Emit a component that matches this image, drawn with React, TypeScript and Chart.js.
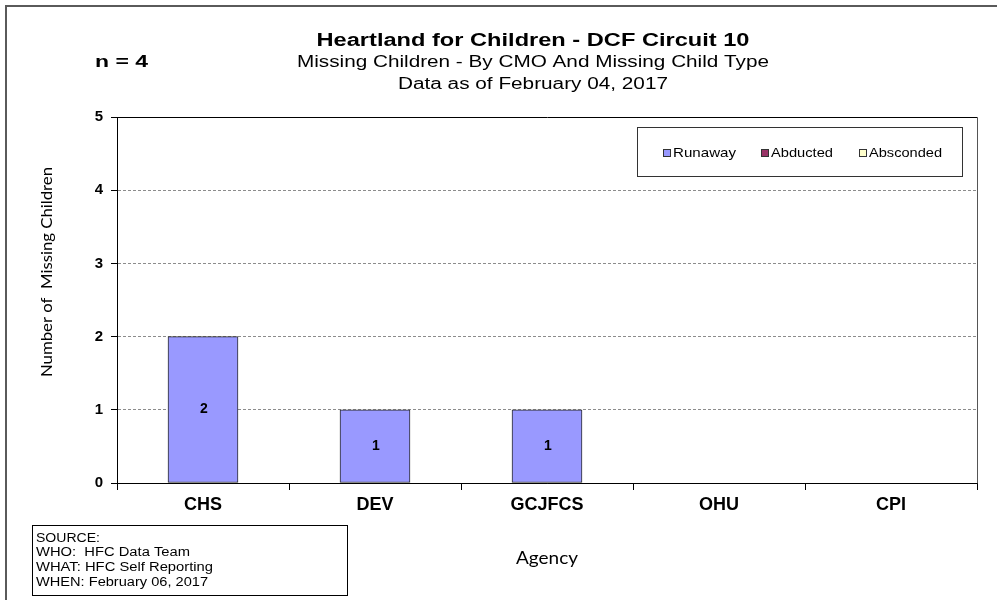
import React, { useEffect, useRef } from 'react';
import { Chart, registerables } from 'chart.js';

Chart.register(...registerables);

// ---- data ----
const categories = ['CHS', 'DEV', 'GCJFCS', 'OHU', 'CPI'];
const runaway = [2, 1, 1, 0, 0];
const abducted = [0, 0, 0, 0, 0];
const absconded = [0, 0, 0, 0, 0];
const seriesNames = ['Runaway', 'Abducted', 'Absconded'];
const seriesColors = ['#9999FF', '#993366', '#FFFFCC'];
const yMin = 0;
const yMax = 5;
const yStep = 1;

const titleText = 'Heartland for Children - DCF Circuit 10';
const subtitleText = 'Missing Children - By CMO And Missing Child Type';
const dateText = 'Data as of February 04, 2017';
const countText = 'n = 4';
const sourceLines = ['SOURCE:', 'WHO:  HFC Data Team', 'WHAT: HFC Self Reporting', 'WHEN: February 06, 2017'];
const xTitle = 'Agency';
const yTitle = 'Number of  Missing Children';

const SANS = "'Liberation Sans', Arial, sans-serif";
const HUMAN = "Lato, 'Liberation Sans', sans-serif";

function fitText(
  ctx: CanvasRenderingContext2D,
  text: string,
  x: number,
  y: number,
  font: string,
  width: number,
  align: CanvasTextAlign = 'center',
  rotate = 0
) {
  ctx.save();
  ctx.font = font;
  ctx.fillStyle = '#000';
  ctx.textBaseline = 'middle';
  ctx.textAlign = align;
  const w = ctx.measureText(text).width;
  const sx = width && w ? width / w : 1;
  ctx.translate(x, y);
  if (rotate) ctx.rotate(rotate);
  ctx.scale(sx, 1);
  ctx.fillText(text, 0, 0);
  ctx.restore();
}

const decorPlugin = {
  id: 'decor',
  beforeDraw(chart: any) {
    const ctx: CanvasRenderingContext2D = chart.ctx;
    ctx.save();
    ctx.fillStyle = '#fff';
    ctx.fillRect(0, 0, chart.width, chart.height);
    ctx.strokeStyle = '#5a5a5a';
    ctx.lineWidth = 2;
    ctx.beginPath();
    ctx.moveTo(chart.width + 2, 6);
    ctx.lineTo(6, 6);
    ctx.lineTo(6, chart.height + 2);
    ctx.stroke();
    ctx.restore();
  },
  afterDatasetsDraw(chart: any) {
    const ctx: CanvasRenderingContext2D = chart.ctx;
    chart.data.datasets.forEach((ds: any, di: number) => {
      const meta = chart.getDatasetMeta(di);
      meta.data.forEach((el: any, i: number) => {
        const v = ds.data[i];
        if (!v) return;
        const p = el.getCenterPoint();
        ctx.save();
        ctx.font = `bold 14px ${SANS}`;
        ctx.fillStyle = '#000';
        ctx.textAlign = 'center';
        ctx.textBaseline = 'middle';
        ctx.fillText(String(v), p.x + 1, p.y);
        ctx.restore();
      });
    });
  },
  afterDraw(chart: any) {
    const ctx: CanvasRenderingContext2D = chart.ctx;
    const a = chart.chartArea;
    const L = Math.round(a.left) + 0.5;
    const R = Math.round(a.right) + 0.5;
    const T = Math.round(a.top) + 0.5;
    const B = Math.round(a.bottom) + 0.5;
    ctx.save();
    ctx.lineWidth = 1;
    ctx.strokeStyle = '#000';
    ctx.beginPath();
    ctx.moveTo(L, B);
    ctx.lineTo(L, T);
    ctx.lineTo(R, T);
    ctx.stroke();
    ctx.strokeStyle = '#555';
    ctx.beginPath();
    ctx.moveTo(R, T);
    ctx.lineTo(R, B);
    ctx.stroke();
    ctx.strokeStyle = '#000';
    ctx.beginPath();
    ctx.moveTo(L, B);
    ctx.lineTo(R, B);
    ctx.stroke();
    ctx.restore();

    // titles
    fitText(ctx, titleText, 533, 41, `bold 18px ${SANS}`, 433);
    fitText(ctx, subtitleText, 533, 63, `16px ${SANS}`, 472);
    fitText(ctx, dateText, 533, 85, `16px ${SANS}`, 270);
    fitText(ctx, countText, 95, 63, `bold 16px ${SANS}`, 53, 'left');

    // legend
    ctx.save();
    ctx.fillStyle = '#fff';
    ctx.fillRect(637.5, 127.5, 325, 49);
    ctx.strokeStyle = '#333';
    ctx.lineWidth = 1;
    ctx.strokeRect(637.5, 127.5, 325, 49);
    ctx.restore();
    const sqX = [663, 761, 859];
    const txX = [673, 771, 869];
    const txW = [63, 62, 73];
    chart.data.datasets.forEach((ds: any, i: number) => {
      ctx.save();
      ctx.fillStyle = ds.backgroundColor;
      ctx.fillRect(sqX[i] + 0.5, 149.5, 7, 7);
      ctx.strokeStyle = '#333';
      ctx.lineWidth = 1;
      ctx.strokeRect(sqX[i] + 0.5, 149.5, 7, 7);
      ctx.restore();
      fitText(ctx, ds.label, txX[i], 153, `13px ${SANS}`, txW[i], 'left');
    });

    // axis titles
    fitText(ctx, xTitle, 547, 559, `17px ${HUMAN}`, 62);
    fitText(ctx, yTitle, 47, 272, `16px ${HUMAN}`, 210, 'center', -Math.PI / 2);

    // source box
    ctx.save();
    ctx.strokeStyle = '#000';
    ctx.lineWidth = 1;
    ctx.strokeRect(32.5, 525.5, 315, 70);
    ctx.restore();
    const lineY = [539, 553, 568, 583];
    const lineW = [64, 154, 177, 172];
    sourceLines.forEach((t, i) => {
      fitText(ctx, t, 36, lineY[i], `12px ${SANS}`, lineW[i], 'left');
    });
  },
};

export default function App() {
  const ref = useRef<HTMLCanvasElement | null>(null);

  useEffect(() => {
    if (!ref.current) return;
    const series = [runaway, abducted, absconded];
    const chart = new Chart(ref.current, {
      type: 'bar',
      data: {
        labels: categories,
        datasets: series.map((d, i) => ({
          label: seriesNames[i],
          data: d,
          backgroundColor: seriesColors[i],
          borderColor: '#2b2b2b',
          borderWidth: 1,
          borderSkipped: false,
          barThickness: 70,
        })),
      },
      options: {
        responsive: false,
        animation: false,
        layout: { padding: { left: 0, top: 117, right: 20, bottom: 0 } },
        plugins: {
          legend: { display: false },
          title: { display: false },
          tooltip: { enabled: false },
        },
        scales: {
          x: {
            stacked: true,
            grid: {
              drawOnChartArea: false,
              drawTicks: true,
              tickLength: 7,
              tickColor: '#000',
              offset: true,
            },
            border: { color: '#000', width: 1 },
            ticks: {
              color: '#000',
              font: { family: SANS, size: 18, weight: 'bold' },
              padding: 4,
              maxRotation: 0,
              autoSkip: false,
            },
            afterFit: (s: any) => {
              s.height = 117;
            },
          },
          y: {
            stacked: true,
            min: yMin,
            max: yMax,
            ticks: {
              stepSize: yStep,
              color: '#000',
              font: { family: SANS, size: 15, weight: 'bold' },
              padding: 8,
            },
            grid: {
              color: '#8c8c8c',
              tickColor: '#000',
              tickLength: 6,
              lineWidth: 1,
            },
            border: { color: '#000', width: 1, dash: [3, 2] },
            afterFit: (s: any) => {
              s.width = 117;
            },
          },
        },
      } as any,
      plugins: [decorPlugin],
    });
    return () => chart.destroy();
  }, []);

  return (
    <div style={{ position: 'absolute', left: 0, top: 0, width: 997, height: 600 }}>
      <canvas ref={ref} width={997} height={600} style={{ display: 'block' }} />
    </div>
  );
}
